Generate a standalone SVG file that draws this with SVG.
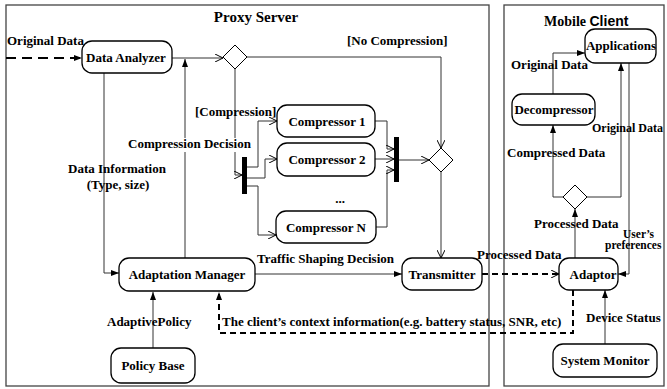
<svg xmlns="http://www.w3.org/2000/svg" width="667" height="389" viewBox="0 0 667 389">
<defs>
<style>
.frame{fill:#fff;stroke:#444;stroke-width:1.3}
.node{fill:#fff;stroke:#000;stroke-width:1.3}
.dia{fill:#fff;stroke:#000;stroke-width:1}
.bar{fill:#000}
.t{font-family:"Liberation Serif","Times New Roman",serif;font-weight:bold;font-size:13px;fill:#000}
.nt{text-anchor:middle}
.c{fill:none;stroke:#333;stroke-width:1}
.d{fill:none;stroke:#000;stroke-width:2;stroke-dasharray:6,4}
</style>
<marker id="fa" viewBox="0 0 8 6" refX="8" refY="3" markerWidth="8" markerHeight="6" orient="auto" markerUnits="userSpaceOnUse"><path d="M0,0 L8,3 L0,6 z" fill="#000"/></marker>
<marker id="oa" viewBox="0 0 8 8" refX="8" refY="4" markerWidth="8" markerHeight="8" orient="auto" markerUnits="userSpaceOnUse"><path d="M0,0 L8,4 L0,8" fill="none" stroke="#000" stroke-width="1"/></marker>
</defs>
<rect width="667" height="389" fill="#fff"/>
<g id="proxy-frame"><rect class="frame" x="6" y="5" width="483" height="381"/><text class="t nt" x="256" y="22" style="font-size:15px">Proxy Server</text></g>
<g id="mobile-frame"><rect class="frame" x="504" y="5" width="160" height="381"/><text class="t" x="544" y="26" style="font-size:14px"><tspan>Mobile </tspan><tspan style="font-family:'Liberation Sans',Arial,sans-serif">Client</tspan></text></g>

<g id="connectors">
<path class="d" d="M6,58 H82" style="stroke-dasharray:10,6" marker-end="url(#fa)"/>
<path class="c" d="M172,58 H223" marker-end="url(#oa)"/>
<path class="c" d="M185,258 V59" marker-end="url(#fa)"/>
<path class="c" d="M247,57 H441 V148" marker-end="url(#oa)"/>
<path class="c" d="M235,69 V175 H242" marker-end="url(#oa)"/>
<path class="c" d="M247,167 H258 V121 H277" marker-end="url(#oa)"/>
<path class="c" d="M247,178 H265 V159 H277" marker-end="url(#oa)"/>
<path class="c" d="M247,186 H258 V235 H276" marker-end="url(#oa)"/>
<path class="c" d="M375,121 H387 V149 H394" marker-end="url(#oa)"/>
<path class="c" d="M375,159 H394" marker-end="url(#oa)"/>
<path class="c" d="M376,227 H387 V170 H394" marker-end="url(#oa)"/>
<path class="c" d="M399,160 H429" marker-end="url(#oa)"/>
<path class="c" d="M441,172 V258" marker-end="url(#oa)"/>
<path class="c" d="M104,73 V273 H119" marker-end="url(#fa)"/>
<path class="c" d="M255,274 H402" marker-end="url(#fa)"/>
<path class="d" d="M482,274 H559" marker-end="url(#oa)"/>
<path class="c" d="M153,348 V292" marker-end="url(#fa)"/>
<path class="d" d="M573,290 V333 H219 V292" marker-end="url(#fa)"/>
<path class="c" d="M605,344 V290" marker-end="url(#fa)"/>
<path class="c" d="M575,258 V209" marker-end="url(#fa)"/>
<path class="c" d="M563,197 H553 V125" marker-end="url(#fa)"/>
<path class="c" d="M587,197 H621 V63" marker-end="url(#fa)"/>
<path class="c" d="M553,94 V53 H585" marker-end="url(#fa)"/>
<path class="c" d="M629,63 V274 H618" marker-end="url(#fa)"/>
<rect x="130" y="138" width="122" height="14" fill="#fff"/>
<text class="t" x="7" y="45">Original Data</text>
<text class="t" x="347" y="45">[No Compression]</text>
<text class="t" x="195" y="116">[Compression]</text>
<text class="t" x="128" y="148">Compression Decision</text>
<text class="t nt" x="117" y="173">Data Information</text>
<text class="t nt" x="118" y="189">(Type, size)</text>
<text class="t" x="257" y="263">Traffic Shaping Decision</text>
<text class="t" x="477" y="259">Processed Data</text>
<text class="t" x="107" y="326">AdaptivePolicy</text>
<text class="t" x="222" y="326">The client’s context information(e.g. battery status, SNR, etc)</text>
<text class="t" x="511" y="69">Original Data</text>
<text class="t" x="592" y="132" style="font-size:12px">Original Data</text>
<text class="t" x="507" y="157">Compressed Data</text>
<text class="t" x="534" y="228">Processed Data</text>
<text class="t" x="623" y="238" style="font-size:11.5px">User’s</text>
<text class="t" x="605" y="249" style="font-size:11.5px">preferences</text>
<text class="t" x="586" y="322">Device Status</text>
</g>

<g id="data-analyzer"><rect class="node" x="82" y="41" width="90" height="32" rx="10"/><text class="t nt" x="126" y="62">Data Analyzer</text></g>
<g id="decision-1"><path class="dia" d="M235,45 L247,57 L235,69 L223,57 z"/></g>
<g id="fork-bar"><rect class="bar" x="242" y="157" width="5" height="37"/></g>
<g id="compressor-1"><rect class="node" x="277" y="105" width="98" height="32" rx="10"/><text class="t nt" x="327" y="126">Compressor 1</text></g>
<g id="compressor-2"><rect class="node" x="277" y="143" width="98" height="33" rx="10"/><text class="t nt" x="327" y="164">Compressor 2</text></g>
<g id="ellipsis"><text class="t nt" x="340" y="203">...</text></g>
<g id="compressor-n"><rect class="node" x="276" y="211" width="100" height="32" rx="10"/><text class="t nt" x="326" y="232">Compressor N</text></g>
<g id="join-bar"><rect class="bar" x="394" y="137" width="5" height="45"/></g>
<g id="decision-2"><path class="dia" d="M441,148 L453,160 L441,172 L429,160 z"/></g>
<g id="adaptation-manager"><rect class="node" x="119" y="258" width="136" height="33" rx="10"/><text class="t nt" x="187" y="279">Adaptation Manager</text></g>
<g id="transmitter"><rect class="node" x="402" y="258" width="80" height="32" rx="10"/><text class="t nt" x="442" y="279">Transmitter</text></g>
<g id="policy-base"><rect class="node" x="111" y="348" width="84" height="35" rx="10"/><text class="t nt" x="153" y="370">Policy Base</text></g>
<g id="applications"><rect class="node" x="585" y="29" width="71" height="34" rx="10"/><text class="t nt" x="621" y="50">Applications</text></g>
<g id="decompressor"><rect class="node" x="512" y="94" width="83" height="31" rx="10"/><text class="t nt" x="554" y="114">Decompressor</text></g>
<g id="decision-3"><path class="dia" d="M575,185 L587,197 L575,209 L563,197 z"/></g>
<g id="adaptor"><rect class="node" x="559" y="258" width="59" height="32" rx="10"/><text class="t nt" x="593" y="279">Adaptor</text></g>
<g id="system-monitor"><rect class="node" x="553" y="344" width="104" height="33" rx="10"/><text class="t nt" x="605" y="365">System Monitor</text></g>
</svg>
